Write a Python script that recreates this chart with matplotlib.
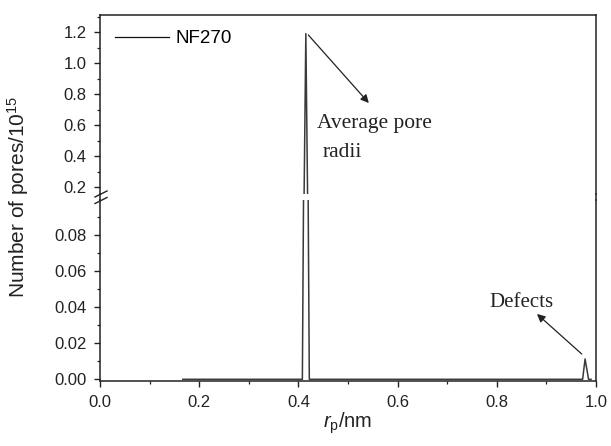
import matplotlib
matplotlib.use("Agg")
import matplotlib.pyplot as plt
from matplotlib.lines import Line2D
from matplotlib.ticker import MultipleLocator, FormatStrFormatter

plt.rcParams['font.family'] = ['Liberation Sans', 'DejaVu Sans']
plt.rcParams['mathtext.fontset'] = 'custom'
plt.rcParams['mathtext.rm'] = 'Liberation Sans'
plt.rcParams['mathtext.it'] = 'Liberation Sans:italic'

# Data (pore radius in nm, number of pores / 1e15)
rp = [0.167, 0.408, 0.4115, 0.415, 0.4185, 0.422, 0.973, 0.978, 0.985, 0.99]
npores = [0.0, 0.0, 0.15, 1.19, 0.15, 0.0, 0.0, 0.0113, 0.0, 0.0]
series_label = "NF270"

W, H = 611, 446
fig = plt.figure(figsize=(W / 100, H / 100), dpi=100)

def fx(px):
    return px / W

def fy(py):
    return 1 - py / H

left, right = 100, 596
top, upper_bot, lower_top, bottom = 15, 194, 200, 381

ax_hi = fig.add_axes([fx(left), fy(upper_bot), fx(right) - fx(left), fy(top) - fy(upper_bot)])
ax_lo = fig.add_axes([fx(left), fy(bottom), fx(right) - fx(left), fy(lower_top) - fy(bottom)])

lc = '#3a3a3a'
for ax in (ax_hi, ax_lo):
    ln, = ax.plot(rp, npores, color=lc, lw=1.1)
    ax.set_xlim(0.0, 1.0)
    for s in ax.spines.values():
        s.set_color('#222222')
        s.set_linewidth(1.1)
    ax.tick_params(axis='both', which='major', direction='out', length=4.3, width=1.0,
                   colors='#222222', labelsize=12, labelcolor='#222222')
    ax.tick_params(axis='y', which='major', pad=5.5)
    ax.tick_params(axis='x', which='major', pad=5.5)
    ax.tick_params(axis='both', which='minor', direction='out', length=2.5, width=0.9,
                   colors='#222222')
    ax.tick_params(right=False, top=False, which='both')

ax_hi.set_ylim(0.155, 1.31)
ax_lo.set_ylim(-0.00094, 0.0996)

ax_hi.spines['bottom'].set_visible(False)
ax_lo.spines['top'].set_visible(False)
ax_hi.tick_params(axis='x', which='both', bottom=False, labelbottom=False)

ax_hi.yaxis.set_major_locator(MultipleLocator(0.2))
ax_hi.yaxis.set_minor_locator(MultipleLocator(0.1))
ax_hi.yaxis.set_major_formatter(FormatStrFormatter('%.1f'))
ax_lo.yaxis.set_major_locator(MultipleLocator(0.02))
ax_lo.yaxis.set_minor_locator(MultipleLocator(0.01))
ax_lo.yaxis.set_major_formatter(FormatStrFormatter('%.2f'))
ax_lo.xaxis.set_major_locator(MultipleLocator(0.2))
ax_lo.xaxis.set_minor_locator(MultipleLocator(0.1))
ax_lo.xaxis.set_major_formatter(FormatStrFormatter('%.1f'))

# continue spines across the gap
for xp in (left, right):
    fig.add_artist(Line2D([fx(xp), fx(xp)], [fy(upper_bot), fy(lower_top)],
                          color='#222222', lw=1.1))
# break marks
for yc in (194, 200.5):
    fig.add_artist(Line2D([fx(95), fx(107)], [fy(yc + 3), fy(yc - 3)],
                          color='#222222', lw=1.0))

# legend
leg = ax_hi.legend([ln], [series_label], loc='upper left', frameon=False,
                   fontsize=13.5, handlelength=2.9, handletextpad=0.35,
                   borderaxespad=0.4, bbox_to_anchor=(0.0, 1.0))
for h in leg.get_lines():
    h.set_color('#111111')
    h.set_linewidth(0.9)

# annotations
serif = ['Liberation Serif', 'DejaVu Serif']
ax_hi.annotate('', xy=(0.542, 0.742), xytext=(0.42, 1.181),
               arrowprops=dict(arrowstyle='-|>', color='#222222', lw=0.9,
                               mutation_scale=12, shrinkA=0, shrinkB=0))
ax_hi.text(0.4375, 0.581, 'Average pore', family=serif, fontsize=15.5,
           va='baseline', ha='left', color='#222222')
ax_hi.text(0.4496, 0.394, 'radii', family=serif, fontsize=15.5,
           va='baseline', ha='left', color='#222222')

ax_lo.annotate('', xy=(0.881, 0.0363), xytext=(0.9712, 0.01406),
               arrowprops=dict(arrowstyle='-|>', color='#222222', lw=0.9,
                               mutation_scale=12, shrinkA=0, shrinkB=0))
ax_lo.text(0.786, 0.0402, 'Defects', family=serif, fontsize=15,
           va='baseline', ha='left', color='#222222')

# axis labels
fig.text(fx(18), fy(197), 'Number of pores/10$^{15}$', rotation=90,
         ha='center', va='center', fontsize=15, color='#222222')
fig.text(fx(348), fy(423), '$r_{\\mathrm{p}}$/nm', ha='center', va='center',
         fontsize=14.5, color='#222222')

fig.savefig('out.png', dpi=100)
